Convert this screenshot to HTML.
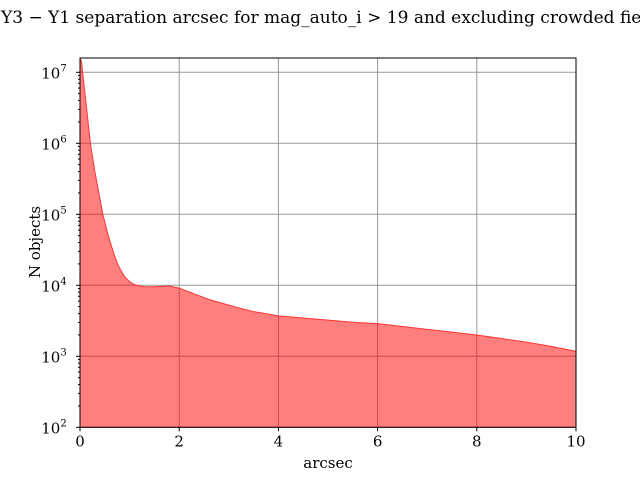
<!DOCTYPE html>
<html><head><meta charset="utf-8"><style>
body{margin:0;background:#fff}
svg text{font-family:"DejaVu Serif","Liberation Serif",serif;fill:#000}
</style></head><body>
<svg width="640" height="480">
<g id="grid"></g>
<path id="area" fill="#ff0000" fill-opacity="0.5" stroke="#ff3333" stroke-width="1"/>
<g id="axes"></g>
<text x="1" y="23" font-size="17">Y3 − Y1 separation arcsec for mag_auto_i &gt; 19 and excluding crowded fields</text>
<text x="328" y="468" font-size="15" text-anchor="middle">arcsec</text>
<text transform="translate(40,242) rotate(-90)" font-size="15" text-anchor="middle">N objects</text>
</svg>
<script>
const arcsec=[0,0.03,0.1,0.21,0.3,0.38,0.46,0.55,0.63,0.7,0.77,0.84,0.9,1.0,1.1,1.2,1.3,1.5,1.8,2.0,2.3,2.6,2.9,3.16,3.5,4,4.5,5,5.5,6,6.5,7,7.5,8,8.5,9,9.5,10];
const logCounts=[7.2,7.15,6.7,6.0,5.6,5.3,5.0,4.75,4.56,4.41,4.28,4.19,4.12,4.05,4.01,3.99,3.98,3.98,3.99,3.96,3.88,3.8,3.74,3.69,3.63,3.57,3.54,3.51,3.48,3.46,3.42,3.38,3.34,3.30,3.25,3.20,3.14,3.07];
const xTicks=[0,2,4,6,8,10];
const yTicks=[2,3,4,5,6,7];
const X0=80,X1=576,Y0=427.3,DEC=71,YT=58;
const sx=v=>X0+(X1-X0)*v/10;
const sy=l=>Y0-(l-2)*DEC;
const NS='http://www.w3.org/2000/svg';
function mk(t,a,p){const e=document.createElementNS(NS,t);for(const k in a)e.setAttribute(k,a[k]);p.appendChild(e);return e;}
const grid=document.getElementById('grid'),axes=document.getElementById('axes');
xTicks.forEach(v=>{
 const g=mk('line',{x1:sx(v),x2:sx(v),y1:YT,y2:Y0,stroke:'#999','stroke-width':1},grid);
 
 
 mk('line',{x1:sx(v),x2:sx(v),y1:Y0,y2:Y0+4,stroke:'#000'},axes);
 const t=mk('text',{x:sx(v),y:Y0+19,'font-size':15,'text-anchor':'middle'},axes);
 t.textContent=v;
 
 
});
yTicks.forEach(l=>{
 const y=sy(l);
 if(l>2){const g=mk('line',{x1:X0,x2:X1,y1:y,y2:y,stroke:'#999','stroke-width':1},grid);
 
 }
 mk('line',{x1:X0-4,x2:X0,y1:y,y2:y,stroke:'#000'},axes);
 const t=mk('text',{x:X0-26,y:y+6,'font-size':15,'text-anchor':'middle'},axes);
 t.innerHTML='10<tspan dy="-7" font-size="10">'+l+'</tspan>';
 
 
 for(let m=2;m<10;m++){const ym=sy(l+Math.log10(m));if(ym>YT)mk('line',{x1:X0-2,x2:X0,y1:ym,y2:ym,stroke:'#000'},axes);}
});
let d='M'+sx(arcsec[0])+','+Y0;
arcsec.forEach((v,i)=>{d+=' L'+sx(v)+','+sy(logCounts[i]);});
d+=' L'+sx(arcsec[arcsec.length-1])+','+Y0+' Z';
document.getElementById('area').setAttribute('d',d);
const fr=mk('rect',{x:X0,y:YT,width:X1-X0,height:Y0-YT,fill:'none',stroke:'#000','stroke-width':1},axes);


</script>
</body></html>
